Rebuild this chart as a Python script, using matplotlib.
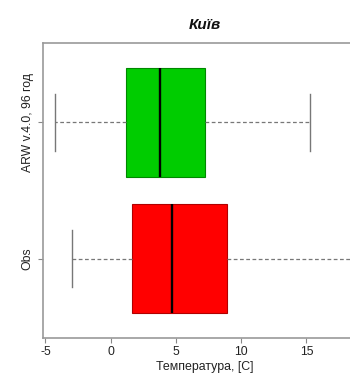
import matplotlib
matplotlib.use("Agg")
import matplotlib.pyplot as plt

# Summary statistics per series (temperature, °C)
labels = ["Obs", "ARW v.4.0, 96 год"]
whislo = [-3.0, -4.3]
q1 = [1.6, 1.15]
med = [4.7, 3.8]
q3 = [8.9, 7.25]
whishi = [18.7, 15.3]
fills = ["#ff0000", "#00cc00"]
edges = ["#b00000", "#008800"]

xticks = [-5, 0, 5, 10, 15]

plt.rcParams["font.family"] = ["Liberation Sans", "DejaVu Sans"]

fig = plt.figure(figsize=(3.5, 3.76), dpi=100)
W, H = 350, 376
left_px, right_px, top_px, bottom_px = 43, 366.5, 43, 338
ax = fig.add_axes([left_px / W, 1 - bottom_px / H,
                   (right_px - left_px) / W, (bottom_px - top_px) / H])

stats = []
for i in range(len(labels)):
    stats.append(dict(label=labels[i], whislo=whislo[i], q1=q1[i], med=med[i],
                      q3=q3[i], whishi=whishi[i], fliers=[]))

bp = ax.bxp(stats, positions=[1, 2], widths=0.8, vert=False, patch_artist=True,
            showfliers=False,
            medianprops=dict(color="black", linewidth=1.7, solid_capstyle="butt"),
            whiskerprops=dict(color="#777777", linewidth=0.9, linestyle=(0, (3, 2))),
            capprops=dict(color="#777777", linewidth=1.0),
            capwidths=0.42)
for patch, fc, ec in zip(bp["boxes"], fills, edges):
    patch.set_facecolor(fc)
    patch.set_edgecolor(ec)
    patch.set_linewidth(0.8)

ax.set_ylim(0.42, 2.58)
ax.set_xlim(-5.19, 19.6)
ax.set_xticks(xticks)
ax.set_xticklabels([str(t) for t in xticks])
ax.set_yticks([1, 2])
ax.set_yticklabels(labels, rotation=90, va="center")

for sp in ax.spines.values():
    sp.set_color("#999999")
    sp.set_linewidth(1.2)
ax.tick_params(axis="both", colors="#888888", length=3.6, width=0.8,
               labelsize=8.8, labelcolor="#222222")
ax.tick_params(axis="x", pad=2.5)
ax.tick_params(axis="y", pad=3)

ax.set_xlabel("Температура, [C]", fontsize=8.9, color="#222222", labelpad=2)
ax.set_title("Київ", fontsize=11, fontweight="bold", fontstyle="italic",
             color="#111111", pad=10)

fig.savefig("out.png", dpi=100)
